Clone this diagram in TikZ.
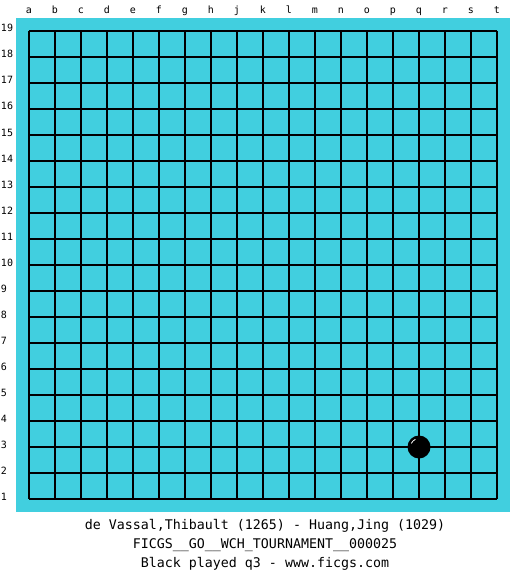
\documentclass[tikz,border=0pt]{standalone}
\usepackage{fontspec}
\setmonofont{DejaVu Sans Mono}
\usepackage{tikz}

\begin{document}
\begin{tikzpicture}[x=1pt, y=-1pt, outer sep=0pt]
  \newcommand{\gridstep}{26}
  \newcommand{\gridleft}{29}
  \newcommand{\gridtop}{31}
  \definecolor{boardcyan}{RGB}{65,207,223}

  \tikzstyle{board}=[fill=boardcyan, draw=none]
  \tikzstyle{gridline}=[draw=black, line width=1.1pt]
  \tikzstyle{coordlabel}=[
    font=\ttfamily\fontsize{10}{10}\selectfont,
    inner sep=0pt
  ]
  \tikzstyle{caption}=[
    font=\ttfamily\fontsize{13.3}{13.3}\selectfont,
    inner sep=0pt,
    anchor=base
  ]
  \tikzstyle{stone}=[circle, fill=black, minimum size=23pt, inner sep=0pt]

  \useasboundingbox (0,0) rectangle (525,575);
  \fill[white] (0,0) rectangle (525,575);
  \path[board] (16,18) rectangle (510,512);

  % grid
  \foreach \k in {0,...,18} {
    \draw[gridline] (\gridleft+\k*\gridstep, \gridtop) -- (\gridleft+\k*\gridstep, \gridtop+18*\gridstep);
    \draw[gridline] (\gridleft, \gridtop+\k*\gridstep) -- (\gridleft+18*\gridstep, \gridtop+\k*\gridstep);
  }

  % coordinates
  \foreach \c [count=\i from 0] in {a,b,c,d,e,f,g,h,j,k,l,m,n,o,p,q,r,s,t}
    \node[coordlabel, anchor=base] (col-\c) at (\gridleft+\i*\gridstep, 14) {\c};
  \foreach \r in {1,...,19}
    \node[coordlabel, anchor=base west] (row-\r) at (1, \gridtop+19*\gridstep-\r*\gridstep+1) {\r};

  % stone
  \node[stone] (q3) at (\gridleft+15*\gridstep, \gridtop+16*\gridstep) {};
  \draw[white, line width=0.8pt] (q3.center) ++(-155:8.5) arc[start angle=-155, end angle=-115, radius=8.5];

  % captions
  \node[caption] (players) at (265,529) {de Vassal,Thibault (1265) - Huang,Jing (1029)};
  \node[caption] (event) at (265,548) {FICGS\_\_GO\_\_WCH\_TOURNAMENT\_\_000025};
  \node[caption] (lastmove) at (265,567) {Black played q3 - www.ficgs.com};
\end{tikzpicture}
\end{document}
